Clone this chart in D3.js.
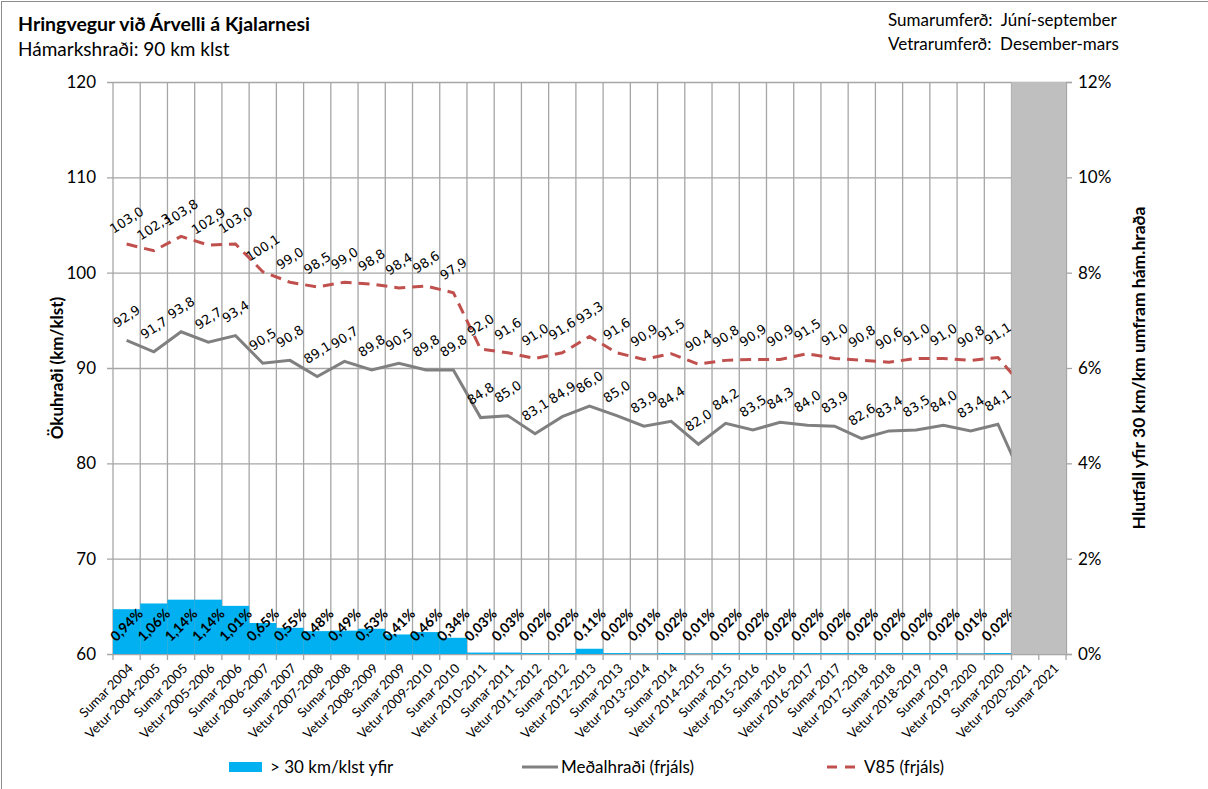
<!DOCTYPE html>
<html>
<head>
<meta charset="utf-8">
<script src="https://cdn.jsdelivr.net/npm/d3@7"></script>
<style>
  body { margin: 0; background: #fff; }
  text { font-family: Lato, "Open Sans", sans-serif; fill: #000; }
</style>
</head>
<body>
<div class="chart"></div>
<script>
// categories (periods)
const periods = [
  "Sumar 2004", "Vetur 2004-2005", "Sumar 2005", "Vetur 2005-2006", "Sumar 2006",
  "Vetur 2006-2007", "Sumar 2007", "Vetur 2007-2008", "Sumar 2008", "Vetur 2008-2009",
  "Sumar 2009", "Vetur 2009-2010", "Sumar 2010", "Vetur 2010-2011", "Sumar 2011",
  "Vetur 2011-2012", "Sumar 2012", "Vetur 2012-2013", "Sumar 2013", "Vetur 2013-2014",
  "Sumar 2014", "Vetur 2014-2015", "Sumar 2015", "Vetur 2015-2016", "Sumar 2016",
  "Vetur 2016-2017", "Sumar 2017", "Vetur 2017-2018", "Sumar 2018", "Vetur 2018-2019",
  "Sumar 2019", "Vetur 2019-2020", "Sumar 2020", "Vetur 2020-2021", "Sumar 2021"
];

// share of vehicles > 30 km/klst over limit (%)
const over30 = [
  0.94, 1.06, 1.14, 1.14, 1.01, 0.65, 0.55, 0.48, 0.49, 0.53, 0.41, 0.46, 0.34,
  0.03, 0.03, 0.02, 0.02, 0.11, 0.02, 0.01, 0.02, 0.01, 0.02, 0.02, 0.02, 0.02,
  0.02, 0.02, 0.02, 0.02, 0.02, 0.01, 0.02, null, null
];

// mean speed (free flow)
const meanSpeed = [
  92.9, 91.7, 93.8, 92.7, 93.4, 90.5, 90.8, 89.1, 90.7, 89.8, 90.5, 89.8, 89.8,
  84.8, 85.0, 83.1, 84.9, 86.0, 85.0, 83.9, 84.4, 82.0, 84.2, 83.5, 84.3, 84.0,
  83.9, 82.6, 83.4, 83.5, 84.0, 83.4, 84.1, 77.8, null
];

// V85 (free flow)
const v85 = [
  103.0, 102.3, 103.8, 102.9, 103.0, 100.1, 99.0, 98.5, 99.0, 98.8, 98.4, 98.6, 97.9,
  92.0, 91.6, 91.0, 91.6, 93.3, 91.6, 90.9, 91.5, 90.4, 90.8, 90.9, 90.9, 91.5,
  91.0, 90.8, 90.6, 91.0, 91.0, 90.8, 91.1, 87.8, null
];

// periods with no measurements (grey block)
const noData = ["Vetur 2020-2021", "Sumar 2021"];

const leftTicks = [60, 70, 80, 90, 100, 110, 120];
const rightTicks = [0, 0.02, 0.04, 0.06, 0.08, 0.10, 0.12];

const W = 1208, H = 789;
const plot = { left: 113, right: 1066, top: 82, bottom: 654 };

const svg = d3.select(".chart").append("svg")
  .attr("width", W)
  .attr("height", H);

const fmt = d3.format(".1f");
const comma = v => fmt(v).replace(".", ",");
const pct = v => d3.format(".2f")(v).replace(".", ",") + "%";

// scales
const x = d3.scaleBand().domain(periods).range([plot.left, plot.right]).padding(0);
const y = d3.scaleLinear().domain([60, 120]).range([plot.bottom, plot.top]);
const y2 = d3.scaleLinear().domain([0, 0.12]).range([plot.bottom, plot.top]);
const cx = d => x(d) + x.bandwidth() / 2;

// outer frame
svg.append("rect")
  .attr("x", 1.5).attr("y", 1.5)
  .attr("width", W + 10).attr("height", H + 10)
  .attr("fill", "none").attr("stroke", "#8c8c8c").attr("stroke-width", 1);

const gridColor = "#a6a6a6";

// horizontal grid + left axis
const gy = svg.append("g")
  .attr("transform", "translate(" + plot.left + ",0)")
  .call(d3.axisLeft(y).tickValues(leftTicks)
    .tickSizeInner(-(plot.right - plot.left)));
gy.select(".domain").remove();
gy.selectAll(".tick line").attr("stroke", gridColor).attr("stroke-width", 1.3)
  .attr("x1", -6);
gy.selectAll(".tick text").style("font-size", "17px").attr("fill", "#000")
  .attr("x", -17);

// vertical grid at category edges
const edges = periods.map(p => x(p)).concat([plot.right]);
svg.append("g").selectAll("line")
  .data(edges)
  .join("line")
  .attr("x1", d => d).attr("x2", d => d)
  .attr("y1", plot.top).attr("y2", plot.bottom + 6)
  .attr("stroke", gridColor).attr("stroke-width", 1.3);

// bottom axis line
svg.append("line")
  .attr("x1", plot.left).attr("x2", plot.right)
  .attr("y1", plot.bottom).attr("y2", plot.bottom)
  .attr("stroke", gridColor).attr("stroke-width", 1.3);

// right axis
const gr = svg.append("g")
  .attr("transform", "translate(" + plot.right + ",0)")
  .call(d3.axisRight(y2).tickValues(rightTicks).tickSize(6).tickPadding(6)
    .tickFormat(d => Math.round(d * 100) + "%"));
gr.select(".domain").attr("stroke", gridColor).attr("stroke-width", 1.3);
gr.selectAll(".tick line").attr("stroke", gridColor).attr("stroke-width", 1.3);
gr.selectAll(".tick text").style("font-size", "17px").attr("fill", "#000");

// bars
const barData = periods.map((p, i) => ({ p: p, v: over30[i] })).filter(d => d.v != null);
svg.append("g").selectAll("rect")
  .data(barData)
  .join("rect")
  .attr("x", d => x(d.p))
  .attr("width", x.bandwidth())
  .attr("y", d => y2(d.v / 100))
  .attr("height", d => plot.bottom - y2(d.v / 100))
  .attr("fill", "#00b0f0");

// lines
const lineFor = arr => d3.line()
  .defined((d, i) => arr[i] != null)
  .x(d => cx(d))
  .y((d, i) => y(arr[i]));

svg.append("path")
  .attr("d", lineFor(meanSpeed)(periods))
  .attr("fill", "none").attr("stroke", "#808080").attr("stroke-width", 3);

svg.append("path")
  .attr("d", lineFor(v85)(periods))
  .attr("fill", "none").attr("stroke", "#c0504d").attr("stroke-width", 3)
  .attr("stroke-dasharray", "11,7");

// value labels for the lines (only measured periods)
const labelled = periods.slice(0, 33);
[meanSpeed, v85].forEach(arr => {
  svg.append("g").selectAll("text")
    .data(labelled)
    .join("text")
    .attr("transform", (d, i) => "translate(" + cx(d) + "," + (y(arr[i]) - 24) + ") rotate(-33)")
    .attr("text-anchor", "middle")
    .attr("dy", "0.35em")
    .style("font-family", "'DejaVu Sans', sans-serif")
    .style("font-size", "13px")
    .text((d, i) => comma(arr[i]));
});

// bar labels
svg.append("g").selectAll("text")
  .data(barData)
  .join("text")
  .attr("transform", d => "translate(" + cx(d.p) + ",625) rotate(-45)")
  .attr("text-anchor", "middle")
  .attr("dy", "0.35em")
  .style("font-size", "14px")
  .style("font-weight", "bold")
  .text(d => pct(d.v));

// no-data block
svg.append("rect")
  .attr("x", x(noData[0]))
  .attr("width", x.bandwidth() * noData.length)
  .attr("y", plot.top)
  .attr("height", plot.bottom - plot.top)
  .attr("fill", "#bfbfbf");

// x labels
svg.append("g").selectAll("text")
  .data(periods)
  .join("text")
  .attr("transform", d => "translate(" + (cx(d) + 4) + "," + (plot.bottom + 12) + ") rotate(-45)")
  .attr("text-anchor", "end")
  .attr("dy", "0.35em")
  .style("font-size", "13px")
  .attr("fill", "#333")
  .text(d => d);

// axis titles
svg.append("text")
  .attr("transform", "translate(57," + ((plot.top + plot.bottom) / 2) + ") rotate(-90)")
  .attr("text-anchor", "middle")
  .attr("dy", "0.35em")
  .style("font-size", "17px").style("font-weight", "bold")
  .text("Ökuhraði (km/klst)");

svg.append("text")
  .attr("transform", "translate(1139," + ((plot.top + plot.bottom) / 2) + ") rotate(-90)")
  .attr("text-anchor", "middle")
  .attr("dy", "0.35em")
  .style("font-size", "17.5px").style("font-weight", "bold")
  .text("Hlutfall yfir 30 km/km umfram hám.hraða");

// titles
svg.append("text")
  .attr("x", 18).attr("y", 31)
  .style("font-size", "19.5px").style("font-weight", "bold")
  .text("Hringvegur við Árvelli á Kjalarnesi");
svg.append("text")
  .attr("x", 18).attr("y", 56)
  .style("font-size", "19px")
  .text("Hámarkshraði: 90 km klst");

svg.append("text")
  .attr("x", 888).attr("y", 26)
  .style("font-size", "17px")
  .attr("xml:space", "preserve")
  .text("Sumarumferð:  Júní-september");
svg.append("text")
  .attr("x", 888).attr("y", 50)
  .style("font-size", "17px")
  .attr("xml:space", "preserve")
  .text("Vetrarumferð:  Desember-mars");

// legend
const lg = svg.append("g");
lg.append("rect").attr("x", 229).attr("y", 762).attr("width", 33).attr("height", 10).attr("fill", "#00b0f0");
lg.append("text").attr("x", 270).attr("y", 767).attr("dy", "0.35em").style("font-size", "17px").text("> 30 km/klst yfir");
lg.append("line").attr("x1", 522).attr("x2", 558).attr("y1", 767).attr("y2", 767)
  .attr("stroke", "#808080").attr("stroke-width", 3);
lg.append("text").attr("x", 561).attr("y", 767).attr("dy", "0.35em").style("font-size", "17px").text("Meðalhraði (frjáls)");
lg.append("line").attr("x1", 827).attr("x2", 861).attr("y1", 767).attr("y2", 767)
  .attr("stroke", "#c0504d").attr("stroke-width", 3).attr("stroke-dasharray", "10,8");
lg.append("text").attr("x", 864).attr("y", 767).attr("dy", "0.35em").style("font-size", "17px").text("V85 (frjáls)");
</script>
</body>
</html>
